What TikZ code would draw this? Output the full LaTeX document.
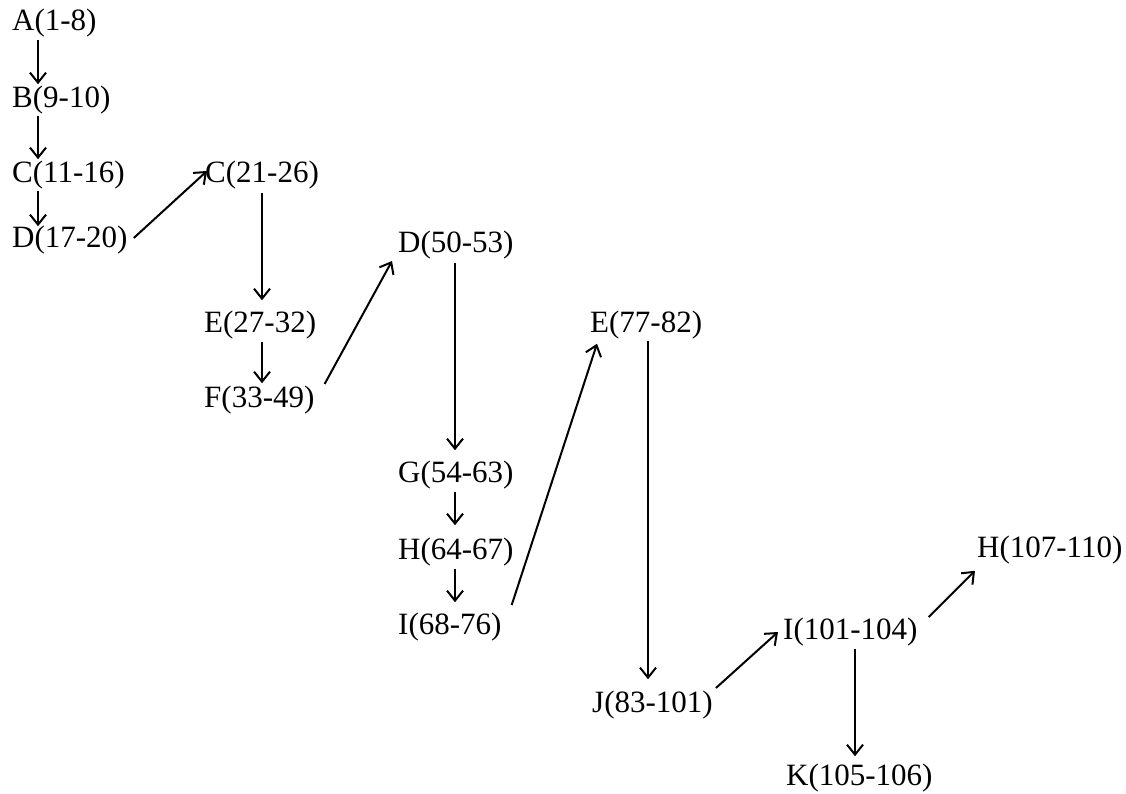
\documentclass[tikz,border=0pt]{standalone}
\usepackage{fontspec}
\setmainfont{Liberation Serif}
\usetikzlibrary{arrows.meta}
\begin{document}
\begin{tikzpicture}[x=1pt,y=-1pt,
  lab/.style={anchor=west,inner sep=0pt,font=\fontsize{31}{31}\selectfont,text height=22.3pt,text depth=6.8pt},
  arr/.style={-{Straight Barb[length=10pt,width=16pt,line width=2pt]},line width=2pt}]
\useasboundingbox (0,0) rectangle (1126,794);
\node[lab] (A) at (12,23) {A(1-8)};
\node[lab] (B) at (12,100) {B(9-10)};
\node[lab] (C1) at (12,175) {C(11-16)};
\node[lab] (D1) at (12,240) {D(17-20)};
\node[lab] (C2) at (205,175) {C(21-26)};
\node[lab] (E1) at (204,325) {E(27-32)};
\node[lab] (F) at (204,400) {F(33-49)};
\node[lab] (D2) at (398,245) {D(50-53)};
\node[lab] (G) at (398,475) {G(54-63)};
\node[lab] (H1) at (398,552) {H(64-67)};
\node[lab] (I1) at (398,627) {I(68-76)};
\node[lab] (E2) at (590,325) {E(77-82)};
\node[lab] (J) at (592,705) {J(83-101)};
\node[lab] (I2) at (783,632) {I(101-104)};
\node[lab] (H2) at (977,550) {H(107-110)};
\node[lab] (K) at (786,778) {K(105-106)};
\draw[arr] ([shift={(26,2)}]A.south west) -- ([shift={(26,-1)}]B.north west);
\draw[arr] ([shift={(26,1)}]B.south west) -- ([shift={(26,-1)}]C1.north west);
\draw[arr] ([shift={(26,1)}]C1.south west) -- ([shift={(26,1)}]D1.north west);
\draw[arr] ([shift={(6,-2)}]D1.east) -- ([shift={(2,-4)}]C2.west);
\draw[arr] ([shift={(57,3)}]C2.south west) -- ([shift={(58,-10)}]E1.north west);
\draw[arr] ([shift={(58,2)}]E1.south west) -- ([shift={(58,-2)}]F.north west);
\draw[arr] ([shift={(10,-16)}]F.east) -- ([shift={(-6,16)}]D2.west);
\draw[arr] ([shift={(57,3)}]D2.south west) -- ([shift={(57,-10)}]G.north west);
\draw[arr] ([shift={(57,2)}]G.south west) -- ([shift={(57,-12)}]H1.north west);
\draw[arr] ([shift={(57,2)}]H1.south west) -- ([shift={(57,-10)}]I1.north west);
\draw[arr] ([shift={(10,-22)}]I1.east) -- ([shift={(7,4)}]E2.south west);
\draw[arr] ([shift={(58,1)}]E2.south west) -- ([shift={(56,-11)}]J.north west);
\draw[arr] ([shift={(3,-17)}]J.east) -- ([shift={(-5,0)}]I2.west);
\draw[arr] ([shift={(11,-15)}]I2.east) -- ([shift={(-2,6)}]H2.south west);
\draw[arr] ([shift={(72,2)}]I2.south west) -- ([shift={(69,-7)}]K.north west);
\end{tikzpicture}
\end{document}
